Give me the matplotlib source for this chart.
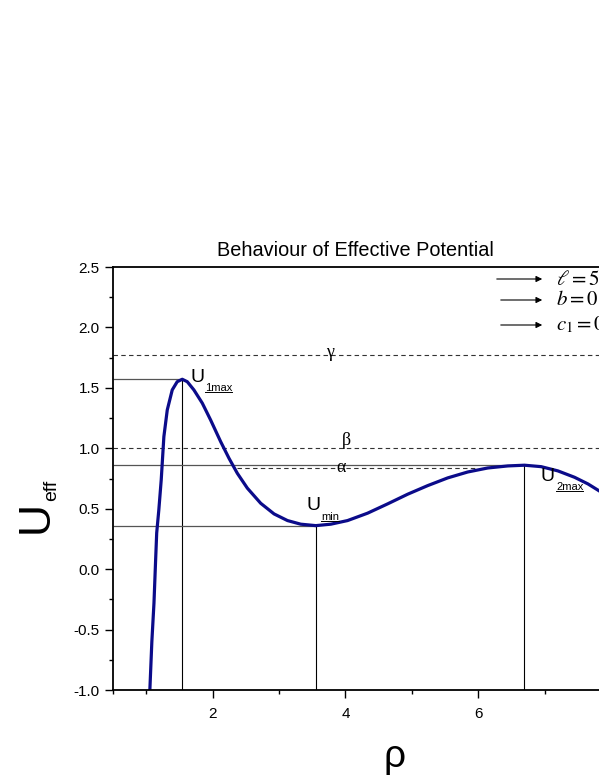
import matplotlib
matplotlib.use("Agg")
from matplotlib import pyplot as plt
from matplotlib.lines import Line2D
from matplotlib.patches import FancyArrowPatch

# curve
rho = [1.03, 1.055, 1.085, 1.117, 1.14, 1.158, 1.190, 1.226, 1.266, 1.317,
       1.392, 1.467, 1.543, 1.618, 1.718, 1.845, 1.970, 2.121, 2.246, 2.372,
       2.523, 2.724, 2.925, 3.127, 3.327, 3.554, 3.780, 4.032, 4.333, 4.635,
       4.937, 5.238, 5.540, 5.842, 6.143, 6.445, 6.696, 6.947, 7.199, 7.450,
       7.652, 7.837, 8.0]
u_eff = [-1.3, -1.0, -0.6, -0.28, 0.05, 0.30, 0.490, 0.738, 1.096, 1.317,
         1.483, 1.551, 1.571, 1.551, 1.483, 1.373, 1.234, 1.055, 0.918, 0.793,
         0.670, 0.545, 0.457, 0.402, 0.372, 0.360, 0.372, 0.402, 0.463, 0.540,
         0.620, 0.691, 0.755, 0.804, 0.837, 0.854, 0.860, 0.848, 0.813, 0.760,
         0.705, 0.642, 0.58]

# extremum markers
ext_rho = [1.543, 3.554, 6.696]
ext_u = [1.571, 0.360, 0.860]
ext_names = ["1max", "min", "2max"]

# energy levels
levels = [1.77, 1.0, 0.838]
level_names = ["γ", "β", "α"]
level_label_pos = [(3.77, 1.79), (4.02, 1.065), (3.93, 0.838)]
alpha_span = (2.37, 5.99)

params = [r"$\ell = 5$", r"$b = 0$", r"$c_1 = 0$"]

XLIM = (0.5, 9.0)
YLIM = (-1.0, 2.5)

plt.rcParams['mathtext.fontset'] = 'stix'
plt.rcParams['font.family'] = ['Liberation Sans', 'DejaVu Sans']

fig = plt.figure(figsize=(5.99, 7.76), dpi=100)
ax = fig.add_axes([113/599, 86/776, (677.5-113)/599, 423/776])
ax.set_xlim(XLIM)
ax.set_ylim(YLIM)

# levels
for i, lv in enumerate(levels):
    if i == 2:
        ax.hlines(lv, alpha_span[0], alpha_span[1], colors='#333333', linestyles=(0, (4, 3)), lw=0.8)
    else:
        ax.axhline(lv, color='#333333', ls=(0, (4, 3)), lw=0.8)
    lx, ly = level_label_pos[i]
    ax.text(lx, ly, level_names[i], ha='center', va='center', fontsize=13,
            family=['Liberation Serif', 'DejaVu Serif'])

# extremum guides
for r, u in zip(ext_rho, ext_u):
    ax.hlines(u, XLIM[0], r, colors='#555555', lw=0.9)
    ax.vlines(r, YLIM[0], u, colors='black', lw=0.8)

ax.plot(rho, u_eff, color='#0b0b8a', lw=2.3, solid_capstyle='butt', solid_joinstyle='round')

# U labels
u_pos = [(190, 377), (306, 506), (541, 476)]
sub_texts = []
for (px, py), name in zip(u_pos, ext_names):
    t = fig.text(px/599, 1 - py/776, "U", fontsize=14, ha='left', va='center')
    fig.canvas.draw()
    bb = t.get_window_extent()
    s = fig.text((bb.x1 + 1)/599, 1 - (py + 11)/776, name, fontsize=8, ha='left', va='center')
    sub_texts.append(s)

fig.canvas.draw()
for s in sub_texts:
    bb = s.get_window_extent()
    y = bb.y0 + 1
    fig.add_artist(Line2D([bb.x0/599, bb.x1/599], [y/776, y/776], color='black', lw=0.7))

# parameter arrows and text
arrow_rows = [279, 300, 325]
arrow_x0 = [494, 498, 498]
for row, x0, p in zip(arrow_rows, arrow_x0, params):
    yy = 1 - row/776
    fig.add_artist(FancyArrowPatch((x0/599, yy), (545/599, yy),
                   transform=fig.transFigure, arrowstyle='-|>', mutation_scale=9,
                   lw=0.8, color='black'))
    fig.text(556/599, yy, p, fontsize=15, ha='left', va='center')

ax.set_xticks([2, 4, 6])
ax.set_xticks([0.5, 1, 3, 5, 7], minor=True)
ax.set_yticks([-1.0, -0.5, 0.0, 0.5, 1.0, 1.5, 2.0, 2.5])
ax.set_yticklabels(["-1.0", "-0.5", "0.0", "0.5", "1.0", "1.5", "2.0", "2.5"])
ax.set_yticks([-0.75, -0.25, 0.25, 0.75, 1.25, 1.75, 2.25], minor=True)
ax.tick_params(which='major', direction='out', length=5.5, width=1.0, labelsize=11)
ax.tick_params(which='minor', direction='out', length=3, width=1.0)
ax.tick_params(axis='x', pad=7)
ax.tick_params(axis='y', pad=4)
for sp in ax.spines.values():
    sp.set_linewidth(1.3)

fig.text(355/599, 1 - 251/776, "Behaviour of Effective Potential", fontsize=14.3,
         ha='center', va='center')
fig.text(395/599, 1 - 757/776, "ρ", fontsize=28, ha='center', va='center')
fig.text(36/599, 1 - 517/776, "U", fontsize=32, rotation=90, ha='center', va='center')
fig.text(52/599, 1 - 490/776, "eff", fontsize=14, rotation=90, ha='center', va='center')

fig.savefig("out.png", dpi=100)
